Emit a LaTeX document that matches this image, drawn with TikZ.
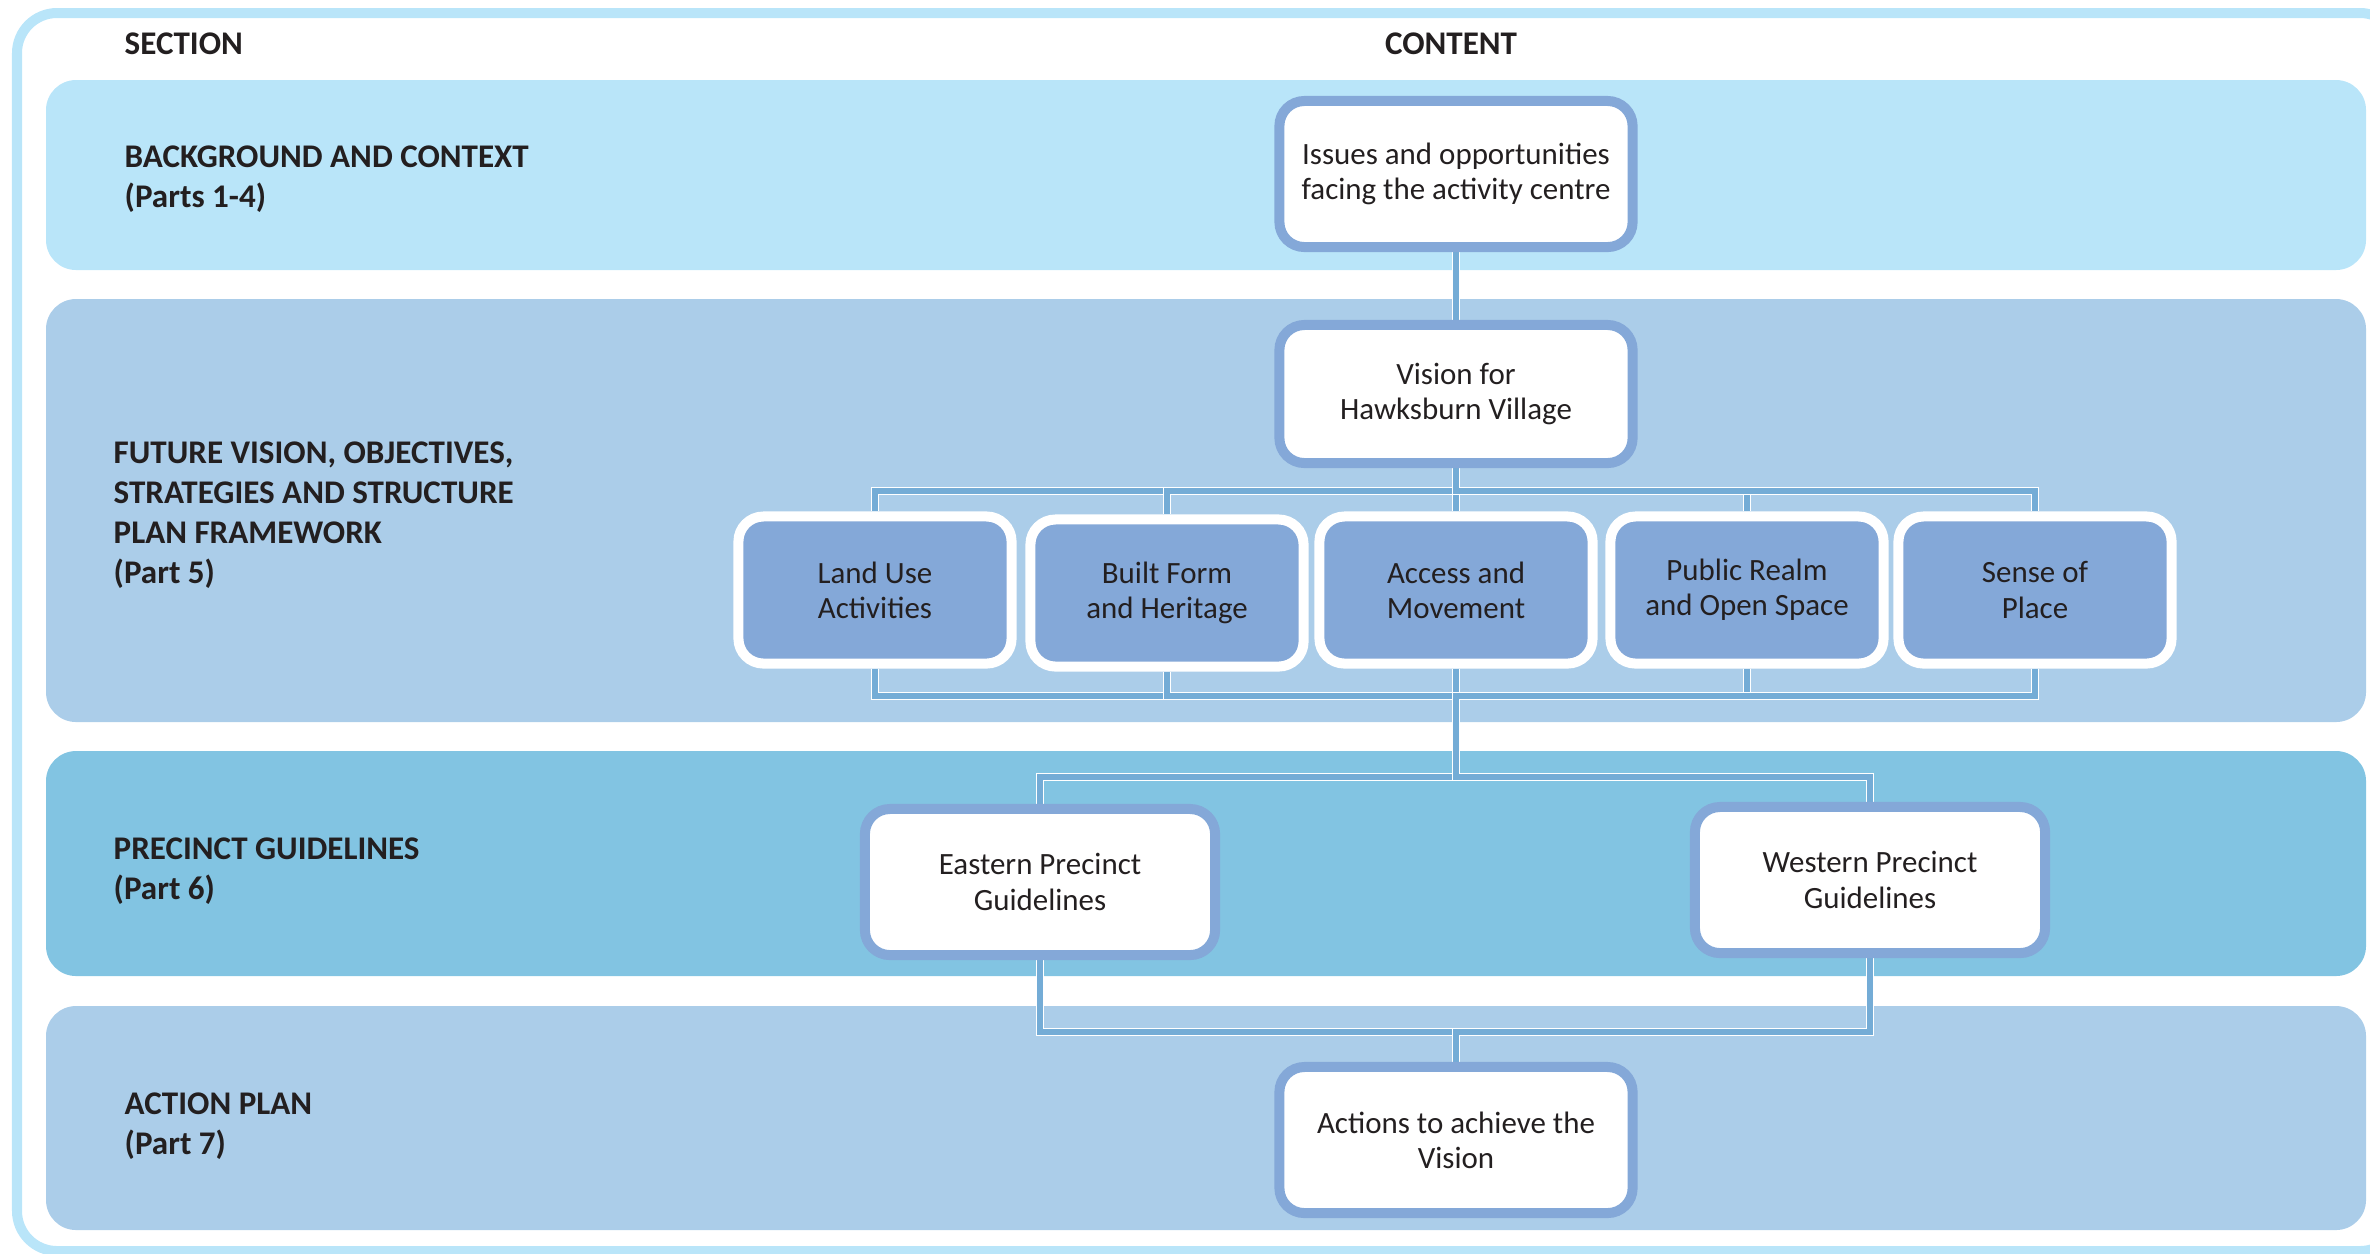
\documentclass[tikz,border=0pt]{standalone}
\usepackage{fontspec}
\setmainfont{Carlito}
\usetikzlibrary{positioning}
\definecolor{bandsky}{RGB}{185,229,249}
\definecolor{bandblue}{RGB}{171,205,233}
\definecolor{banddeep}{RGB}{130,196,226}
\definecolor{boxblue}{RGB}{132,168,216}
\definecolor{linkblue}{RGB}{116,172,214}
\definecolor{inkgrey}{RGB}{35,31,32}
\pgfdeclarelayer{bands}
\pgfdeclarelayer{links}
\pgfsetlayers{bands,links,main}

\begin{document}
\begin{tikzpicture}[x=0.01cm,y=-0.01cm,
    txt/.style={text=inkgrey,font=\fontsize{8.8}{10}\selectfont,align=center},
    sect/.style={text=inkgrey,font=\fontsize{9.4}{11.4}\selectfont\bfseries,align=left,anchor=west,inner sep=0pt},
    whitebox/.style={txt,draw=boxblue,fill=white,line width=1mm,rounded corners=0.25cm,minimum width=3.53cm,minimum height=1.46cm},
    topic/.style={txt,draw=white,fill=boxblue,line width=1mm,rounded corners=0.25cm,minimum width=2.73cm,minimum height=1.47cm},
    link/.style={draw=white,line width=0.4pt,double=linkblue,double distance=0.6mm}]
  \useasboundingbox (0,0) rectangle (2370,1253);

  % frame and section bands
  \begin{pgfonlayer}{bands}
    \draw[bandsky,line width=1mm,rounded corners=0.4cm] (17,13) rectangle (2400,1251);
    \fill[bandsky,rounded corners=0.3cm] (46,80) rectangle (2366,270);
    \fill[bandblue,rounded corners=0.3cm] (46,299) rectangle (2366,722);
    \fill[banddeep,rounded corners=0.3cm] (46,751) rectangle (2366,976);
    \fill[bandblue,rounded corners=0.3cm] (46,1006) rectangle (2366,1230);
  \end{pgfonlayer}

  \node[sect] (secthead) at (124,44) {SECTION};
  \node[txt,font=\fontsize{9.4}{10}\selectfont\bfseries] (conthead) at (1451,44) {CONTENT};
  \node[sect] (sbg) at (124,179) {BACKGROUND AND CONTEXT\\(Parts 1-4)};
  \node[sect] (sfut) at (113,515) {FUTURE VISION, OBJECTIVES,\\STRATEGIES AND STRUCTURE\\PLAN FRAMEWORK\\(Part 5)};
  \node[sect] (spre) at (113,871) {PRECINCT GUIDELINES\\(Part 6)};
  \node[sect] (sact) at (124,1126) {ACTION PLAN\\(Part 7)};

  \node[whitebox] (issues) at (1456,174) {Issues and opportunities\\facing the activity centre};
  \node[whitebox,minimum height=1.38cm] (vision) at (1456,394) {Vision for\\Hawksburn Village};
  \node[topic] (landuse) at (875,590) {Land Use\\Activities};
  \node[topic] (builtform) at (1167,593) {Built Form\\and Heritage};
  \node[topic] (access) at (1456,590) {Access and\\Movement};
  \node[topic] (realm) at (1747,590) {Public Realm\\and Open Space};
  \node[topic] (place) at (2035,590) {Sense of\\Place};
  \node[whitebox,minimum width=3.5cm] (east) at (1040,882) {Eastern Precinct\\Guidelines};
  \node[whitebox,minimum width=3.5cm] (west) at (1870,880) {Western Precinct\\Guidelines};
  \node[whitebox] (actions) at (1456,1140) {Actions to achieve the\\Vision};

  \coordinate (hubtop) at (1456,491);
  \coordinate (hubmid) at (1456,696);
  \coordinate (hubpre) at (1456,777);
  \coordinate (hubbot) at (1456,1032);

  \begin{pgfonlayer}{links}
    \draw[link] (issues) -- (vision);
    \foreach \t in {landuse,builtform,access,realm,place}{
      \draw[link] (vision.south) -- (hubtop) -| (\t.north);
      \foreach \p in {east,west}
        \draw[link] (\t.south) |- (hubmid) -- (hubpre) -| (\p.north);
    }
    \foreach \p in {east,west}
      \draw[link] (\p.south) |- (hubbot) -- (actions.north);
  \end{pgfonlayer}
\end{tikzpicture}
\end{document}
